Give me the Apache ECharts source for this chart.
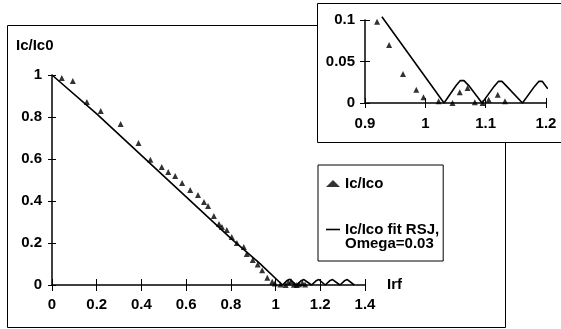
<!DOCTYPE html>
<html>
<head>
<meta charset="utf-8">
<script src="https://cdn.jsdelivr.net/npm/echarts@6/dist/echarts.min.js"></script>
<style>html,body{margin:0;padding:0;background:#fff;}#c{width:561px;height:329px;}</style>
</head>
<body>
<div id="c"></div>
<script>
// ---- data ----
const xTicksMain = [0, 0.2, 0.4, 0.6, 0.8, 1, 1.2, 1.4];
const yTicksMain = [0, 0.2, 0.4, 0.6, 0.8, 1];
const xTicksInset = [0.9, 1, 1.1, 1.2];
const yTicksInset = [0, 0.05, 0.1];

const dataX = [0.044, 0.093, 0.156, 0.218, 0.307, 0.387, 0.44, 0.491, 0.52, 0.551,
  0.582, 0.618, 0.653, 0.68, 0.698, 0.724, 0.747, 0.76, 0.782, 0.804,
  0.827, 0.858, 0.871, 0.898, 0.92, 0.94, 0.963, 0.985, 0.997, 1.022,
  1.045, 1.057, 1.07, 1.082, 1.095, 1.105, 1.12, 1.132];
const dataY = [0.986, 0.971, 0.871, 0.829, 0.767, 0.676, 0.597, 0.562, 0.538, 0.519,
  0.486, 0.452, 0.429, 0.395, 0.376, 0.329, 0.29, 0.276, 0.262, 0.229,
  0.2, 0.181, 0.148, 0.119, 0.098, 0.07, 0.035, 0.016, 0.007, 0.002,
  0, 0.013, 0.018, 0.001, 0, 0.004, 0.01, 0.002];

const fitX = [0, 0.2, 0.4, 0.6, 0.8, 0.928, 1.031,
  1.051, 1.058, 1.064, 1.072, 1.094,
  1.114, 1.121, 1.127, 1.135, 1.161,
  1.181, 1.188, 1.194, 1.203, 1.222,
  1.242, 1.249, 1.255, 1.263, 1.288,
  1.308, 1.315, 1.321, 1.329, 1.352];
const fitY = [1, 0.815, 0.617, 0.42, 0.222, 0.104, 0,
  0.021, 0.027, 0.027, 0.021, 0,
  0.02, 0.026, 0.026, 0.02, 0,
  0.02, 0.026, 0.026, 0.017, 0,
  0.02, 0.026, 0.026, 0.02, 0,
  0.02, 0.026, 0.026, 0.02, 0];

const dataName = 'Ic/Ico';
const fitName = 'Ic/Ico fit RSJ, Omega=0.03';
const fitLines = ['Ic/Ico fit RSJ,', 'Omega=0.03'];
const yName = 'Ic/Ic0';
const xName = 'Irf';

// ---- build ----
const FONT = '"Liberation Sans", Arial, sans-serif';
const pts = dataX.map((x, i) => [x, dataY[i]]);
const fitPts = fitX.map((x, i) => [x, fitY[i]]);
const insetFit = fitPts.filter(p => p[0] >= 0.928 && p[0] <= 1.203);
const insetPts = pts.filter(p => p[0] >= 0.9);

function labelStyle(margin) {
  return { show: true, color: '#000', fontFamily: FONT, fontWeight: 'bold', fontSize: 15, margin: margin,
    formatter: v => String(+v.toFixed(4)) };
}
function mkAxis(ticks, gridIndex, opts) {
  const iv = +(ticks[1] - ticks[0]).toFixed(6);
  const base = {
    type: 'value', gridIndex: gridIndex,
    min: ticks[0], max: ticks[ticks.length - 1], interval: iv,
    splitLine: { show: false },
    axisLine: { show: true, onZero: false, lineStyle: { color: '#000', width: 1.5 } },
    axisTick: { show: true, inside: false, length: 5, lineStyle: { color: '#000', width: 1 } },
    axisLabel: labelStyle(10)
  };
  return Object.assign(base, opts || {});
}
function overlay(ticks, gridIndex, len, pos) {
  return mkAxis(ticks, gridIndex, {
    position: pos,
    axisLine: { show: false },
    axisTick: { show: true, inside: true, length: len, lineStyle: { color: '#000', width: 1 } },
    axisLabel: { show: false }
  });
}
function tickOut(len) {
  return { show: true, inside: false, length: len, lineStyle: { color: '#000', width: 1 } };
}

const chart = echarts.init(document.getElementById('c'), null, { renderer: 'canvas' });
chart.setOption({
  animation: false,
  backgroundColor: '#fff',
  grid: [
    { left: 52, top: 75, width: 313, height: 210 },
    { left: 365, top: 20, width: 181, height: 83 }
  ],
  xAxis: [
    mkAxis(xTicksMain, 0, {
      position: 'bottom', axisTick: tickOut(6), axisLabel: labelStyle(12),
      name: xName, nameLocation: 'end', nameGap: 22,
      nameTextStyle: { color: '#000', fontFamily: FONT, fontWeight: 'bold', fontSize: 15 }
    }),
    overlay(xTicksMain, 0, 6, 'bottom'),
    mkAxis(xTicksInset, 1, { position: 'bottom', axisTick: tickOut(5), axisLabel: labelStyle(13) }),
    overlay(xTicksInset, 1, 5, 'bottom')
  ],
  yAxis: [
    mkAxis(yTicksMain, 0, { position: 'left', axisTick: tickOut(4), axisLabel: labelStyle(10) }),
    overlay(yTicksMain, 0, 4, 'left'),
    mkAxis(yTicksInset, 1, { position: 'left', axisTick: tickOut(5), axisLabel: labelStyle(10) }),
    overlay(yTicksInset, 1, 5, 'left')
  ],
  legend: {
    left: 318, top: 165, orient: 'vertical',
    padding: [11, 4, 10, 8], itemGap: 17, itemWidth: 14, itemHeight: 7,
    borderColor: '#000', borderWidth: 1, backgroundColor: '#fff',
    textStyle: { color: '#000', fontFamily: FONT, fontWeight: 'bold', fontSize: 15, lineHeight: 14 },
    data: [
      { name: dataName, icon: 'triangle' },
      { name: fitName, icon: 'path://M0,0H14V1.6H0Z' }
    ],
    formatter: n => n === fitName ? '\n' + fitLines.join('\n') : n
  },
  graphic: [
    { type: 'polyline', z: -10, silent: true,
      shape: { points: [[317, 25.5], [7.5, 25.5], [7.5, 327.5], [505.5, 327.5], [505.5, 142]] },
      style: { stroke: '#000', lineWidth: 1, fill: null } },
    { type: 'rect', z: -10, silent: true,
      shape: { x: 317.5, y: 3.5, width: 260, height: 139 },
      style: { stroke: '#000', lineWidth: 1, fill: null } },
    { type: 'text', left: 16, top: 38,
      style: { text: yName, fill: '#000', font: 'bold 15px ' + FONT } }
  ],
  series: [
    { name: dataName, type: 'scatter', xAxisIndex: 0, yAxisIndex: 0, data: pts,
      symbol: 'triangle', symbolSize: 6, itemStyle: { color: '#000' } },
    { name: fitName, type: 'line', xAxisIndex: 0, yAxisIndex: 0, data: fitPts,
      symbol: 'none', lineStyle: { color: '#000', width: 1.6 }, itemStyle: { color: '#000' } },
    { name: 'inset-data', type: 'scatter', xAxisIndex: 2, yAxisIndex: 2, data: insetPts,
      symbol: 'triangle', symbolSize: 6, itemStyle: { color: '#000' } },
    { name: 'inset-fit', type: 'line', xAxisIndex: 2, yAxisIndex: 2, data: insetFit, clip: false,
      symbol: 'none', lineStyle: { color: '#000', width: 1.6 }, itemStyle: { color: '#000' } }
  ]
});
</script>
</body>
</html>
